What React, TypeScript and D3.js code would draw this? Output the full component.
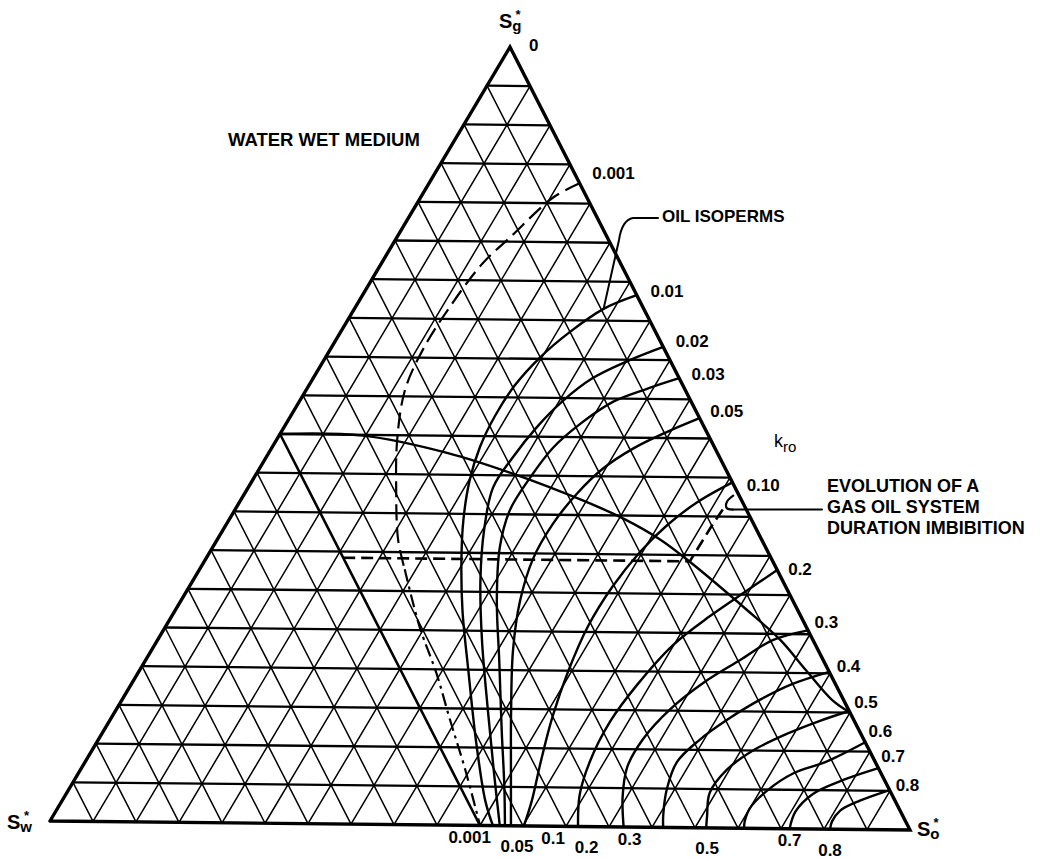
import React from 'react';
import * as d3 from 'd3';

const width = 1041;
const height = 860;

// triangle corners on the page: Sw* bottom left, So* bottom right, Sg* top
const cornerSw = [50, 821];
const cornerSo = [910, 830];
const cornerSg = [510, 47];

// grid every 0.05 of saturation
const gridSteps = d3.range(1, 20).map(i => i / 20);

// oil isoperms, points as [So*, Sg*], from the So-Sg side down to the Sw-So base
const kro0001Dashed = [[0.174, 0.826], [0.153, 0.807], [0.131, 0.756], [0.117, 0.722], [0.109, 0.666], [0.107, 0.614], [0.114, 0.559], [0.139, 0.495], [0.172, 0.431], [0.209, 0.366], [0.237, 0.328]];
const kro0001DashDot = [[0.237, 0.328], [0.294, 0.254], [0.345, 0.195], [0.393, 0.135], [0.445, 0.071], [0.5, 0]];
const kro001 = [[0.317, 0.683], [0.288, 0.665], [0.265, 0.635], [0.248, 0.602], [0.238, 0.566], [0.236, 0.527], [0.24, 0.486], [0.251, 0.443], [0.271, 0.392], [0.296, 0.341], [0.332, 0.276], [0.38, 0.199], [0.437, 0.109], [0.489, 0.032], [0.515, 0]];
const kro002 = [[0.383, 0.617], [0.351, 0.598], [0.323, 0.576], [0.304, 0.546], [0.292, 0.512], [0.285, 0.473], [0.283, 0.434], [0.302, 0.379], [0.332, 0.315], [0.375, 0.238], [0.43, 0.148], [0.478, 0.071], [0.523, 0]];
const kro003 = [[0.423, 0.577], [0.393, 0.563], [0.363, 0.546], [0.34, 0.517], [0.325, 0.486], [0.319, 0.447], [0.318, 0.405], [0.332, 0.357], [0.365, 0.289], [0.409, 0.212], [0.46, 0.122], [0.501, 0.051], [0.529, 0]];
const kro005 = [[0.474, 0.526], [0.446, 0.508], [0.418, 0.486], [0.397, 0.46], [0.384, 0.427], [0.377, 0.388], [0.378, 0.344], [0.392, 0.289], [0.418, 0.225], [0.457, 0.148], [0.498, 0.071], [0.536, 0]];
const kro010 = [[0.556, 0.444], [0.529, 0.418], [0.51, 0.388], [0.497, 0.353], [0.489, 0.308], [0.488, 0.257], [0.496, 0.199], [0.509, 0.141], [0.526, 0.084], [0.543, 0.032], [0.551, 0]];
const kro02 = [[0.668, 0.332], [0.647, 0.305], [0.622, 0.272], [0.599, 0.234], [0.585, 0.183], [0.579, 0.135], [0.583, 0.084], [0.594, 0.041], [0.614, 0]];
const kro03 = [[0.745, 0.255], [0.711, 0.242], [0.687, 0.216], [0.66, 0.186], [0.64, 0.152], [0.629, 0.113], [0.63, 0.077], [0.645, 0.039], [0.667, 0]];
const kro04 = [[0.798, 0.202], [0.764, 0.186], [0.737, 0.165], [0.713, 0.139], [0.695, 0.113], [0.684, 0.084], [0.691, 0.049], [0.705, 0.015], [0.713, 0]];
const kro05 = [[0.848, 0.152], [0.821, 0.139], [0.792, 0.122], [0.764, 0.1], [0.747, 0.075], [0.743, 0.045], [0.756, 0.015], [0.763, 0]];
const kro06 = [[0.888, 0.112], [0.857, 0.087], [0.826, 0.071], [0.808, 0.049], [0.8, 0.026], [0.803, 0.009], [0.807, 0]];
const kro07 = [[0.921, 0.079], [0.888, 0.063], [0.863, 0.045], [0.855, 0.022], [0.86, 0]];
const kro08 = [[0.949, 0.051], [0.922, 0.037], [0.906, 0.024], [0.904, 0.01], [0.907, 0]];

const solidIsoperms = [kro001, kro002, kro003, kro005, kro010, kro02, kro03, kro04, kro05, kro06, kro07, kro08];

// long curve starting at Sg* = 0.5 on the water side
const boundaryCurve = [[0, 0.5], [0.097, 0.499], [0.206, 0.478], [0.297, 0.452], [0.392, 0.42], [0.455, 0.396], [0.511, 0.37], [0.557, 0.344], [0.661, 0.28], [0.72, 0.242], [0.771, 0.203], [0.822, 0.165], [0.85, 0.15]];

// imbibition path of a gas oil system
const evolutionPath = [[0.158, 0.342], [0.561, 0.342], [0.562, 0.388], [0.564, 0.415]];
const evolutionHook = [[0.566, 0.427], [0.563, 0.419], [0.567, 0.411], [0.575, 0.409]];

// kro tick labels
const rightTickLabels = ['0', '0.001', '0.01', '0.02', '0.03', '0.05', '0.10', '0.2', '0.3', '0.4', '0.5', '0.6', '0.7', '0.8'];
const rightTickSo = [0, 0.163, 0.313, 0.378, 0.419, 0.467, 0.561, 0.668, 0.736, 0.793, 0.838, 0.875, 0.908, 0.945];
const bottomTickLabels = ['0.001', '0.05', '0.1', '0.2', '0.3', '0.5', '0.7', '0.8'];
const bottomTickSo = [0.488, 0.543, 0.585, 0.624, 0.674, 0.764, 0.86, 0.907];

const soX = d3.scaleLinear().domain([0, 1]).range([0, cornerSo[0] - cornerSw[0]]);
const sgX = d3.scaleLinear().domain([0, 1]).range([0, cornerSg[0] - cornerSw[0]]);
const soY = d3.scaleLinear().domain([0, 1]).range([0, cornerSo[1] - cornerSw[1]]);
const sgY = d3.scaleLinear().domain([0, 1]).range([0, cornerSg[1] - cornerSw[1]]);

const px = (p: number[]) => cornerSw[0] + soX(p[0]) + sgX(p[1]);
const py = (p: number[]) => cornerSw[1] + soY(p[0]) + sgY(p[1]);

const smooth = d3.line<number[]>().x(px).y(py).curve(d3.curveCatmullRom.alpha(0.5));
const straight = d3.line<number[]>().x(px).y(py);

const font = '"Liberation Sans", Arial, Helvetica, sans-serif';

// S* with its phase subscript, star sitting over the subscript
const SatLabel = ({ x, y, phase }: { x: number; y: number; phase: string }) => (
  <text x={x} y={y} fontSize={20} fontWeight="bold">
    S
    <tspan fontSize={15} dy={3}>{phase}</tspan>
    <tspan fontSize={13} dx={phase === 'w' ? -8 : -6} dy={-12}>*</tspan>
  </text>
);

const App = () => {
  const hookEnd = evolutionHook[evolutionHook.length - 1];
  const isoAnchor = kro001[1];

  return (
    <svg width={width} height={height} style={{ position: 'absolute', left: 0, top: 0, background: '#fff' }} fontFamily={font}>
      <g stroke="#000" fill="none" strokeLinecap="round">
        {gridSteps.map(t => (
          <path key={'so' + t} d={straight([[t, 0], [t, 1 - t]])} strokeWidth={1.5} />
        ))}
        {gridSteps.map(t => (
          <path key={'sw' + t} d={straight([[1 - t, 0], [0, 1 - t]])} strokeWidth={t === 0.5 ? 2.6 : 1.5} />
        ))}
        {gridSteps.map(t => (
          <path key={'sg' + t} d={straight([[0, t], [1 - t, t]])} strokeWidth={2.3} />
        ))}

        {solidIsoperms.map((c, i) => (
          <path key={'iso' + i} d={smooth(c)} strokeWidth={2.4} />
        ))}
        <path d={smooth(kro0001Dashed)} strokeWidth={2.2} strokeDasharray="16 7" strokeLinecap="butt" />
        <path d={smooth(kro0001DashDot)} strokeWidth={2.2} strokeDasharray="13 5 3 5" strokeLinecap="butt" />
        <path d={smooth(boundaryCurve)} strokeWidth={2.4} />

        <path d={straight(evolutionPath)} strokeWidth={2.6} strokeDasharray="12 6" strokeLinecap="butt" />
        <path d={smooth(evolutionHook)} strokeWidth={2.2} />
        <path d={`M${px(hookEnd)},${py(hookEnd)}H822`} strokeWidth={2} />

        <path d={`M658,218H633Q622,220,619,240L${px(isoAnchor)},${py(isoAnchor)}`} strokeWidth={2} />

        <path d={straight([[0, 0], [1, 0], [0, 1], [0, 0]])} strokeWidth={3.4} strokeLinejoin="miter" />
      </g>

      <g fontSize={17} fontWeight="bold" fill="#000">
        {rightTickLabels.map((label, i) => {
          const p = [rightTickSo[i], 1 - rightTickSo[i]];
          return (
            <text key={label} x={px(p) + 19 - 12 * rightTickSo[i]} y={py(p)} dominantBaseline="middle">{label}</text>
          );
        })}
        {bottomTickLabels.map((label, i) => {
          const p = [bottomTickSo[i], 0];
          return (
            <text key={label} x={px(p)} y={py(p) + (i % 2 ? 22 : 13)} textAnchor="middle" dominantBaseline="middle">{label}</text>
          );
        })}
      </g>

      <g fontWeight="bold" fill="#000" fontSize={18}>
        <text x={228} y={141} dominantBaseline="middle" fontSize={18.5}>WATER WET MEDIUM</text>
        <text x={662} y={218} dominantBaseline="middle" fontSize={17}>OIL ISOPERMS</text>
        <text x={827} y={487} dominantBaseline="middle">EVOLUTION OF A</text>
        <text x={827} y={508} dominantBaseline="middle">GAS OIL SYSTEM</text>
        <text x={827} y={529} dominantBaseline="middle">DURATION IMBIBITION</text>
      </g>

      <g fill="#000">
        <text x={774} y={447} fontSize={18}>k<tspan fontSize={15} dy={5}>ro</tspan></text>
        <SatLabel x={499} y={28} phase="g" />
        <SatLabel x={7} y={829} phase="w" />
        <SatLabel x={917} y={836} phase="o" />
      </g>
    </svg>
  );
};

export default App;
